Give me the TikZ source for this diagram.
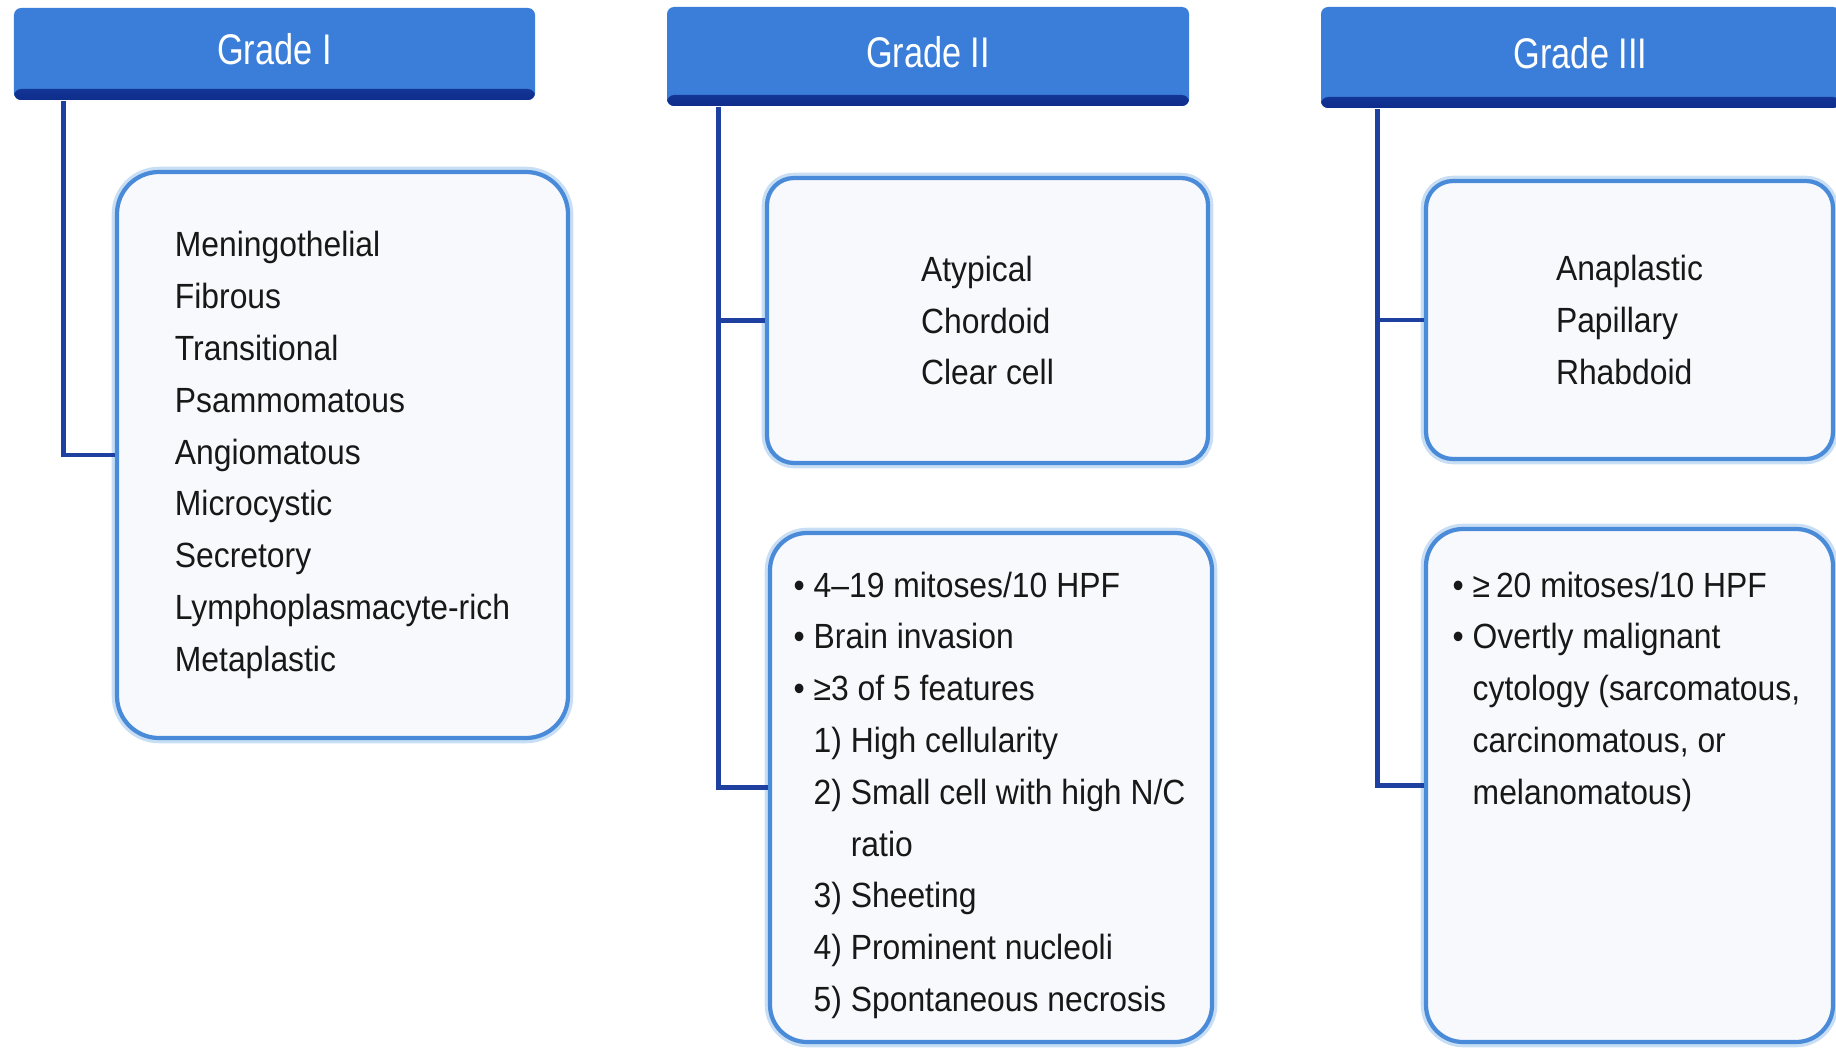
\documentclass[tikz,border=0pt]{standalone}
\usepackage{fontspec}
\setmainfont{Liberation Sans}[FakeStretch=0.91]
\newfontfamily\headfont{Liberation Sans}[FakeStretch=0.8]
\usepackage{tikz}
\definecolor{hblue}{RGB}{58,126,218}
\definecolor{hdark}{RGB}{14,44,140}
\definecolor{linkblue}{RGB}{30,64,160}
\definecolor{boxline}{RGB}{74,139,217}
\definecolor{boxglow}{RGB}{200,222,244}
\definecolor{boxfill}{RGB}{248,249,252}
\definecolor{ink}{RGB}{24,24,24}
\tikzset{grade/.style = {fill = hblue, rounded corners = 2pt, text = white, inner sep = 0, text depth = 1mm,
    font = \headfont\fontsize{12.2}{14}\selectfont,
    path picture = {\shade [top color = hblue, bottom color = hdark] ([yshift = 1.1mm]path picture bounding box.south west) rectangle (path picture bounding box.south east);}}}
\tikzset{typebox/.style = {draw = boxline, line width = 1.2pt, fill = boxfill, preaction = {draw = boxglow, line width = 3pt},
    text = ink, align = left, inner sep = 0, font = \fontsize{9.96}{14.74}\selectfont}}
\tikzset{items/.style = {text = ink, align = left, inner sep = 0, anchor = north west, font = \fontsize{9.96}{14.74}\selectfont}}
\tikzset{link/.style = {draw = linkblue, line width = 1.3pt}}

\begin{document}
\begin{tikzpicture}
      \useasboundingbox [fill = white] (0, 0) rectangle (18.36, -10.48);
      \node [grade, minimum width = 5.21cm, minimum height = 0.92cm] (g1) at (2.745, -0.54) {Grade I};
      \node [grade, minimum width = 5.22cm, minimum height = 0.99cm] (g2) at (9.28, -0.565) {Grade II};
      \node [grade, minimum width = 5.19cm, minimum height = 1.01cm] (g3) at (15.805, -0.575) {Grade III};
      \coordinate (s1) at ([xshift = 0.5cm]g1.south west);
      \coordinate (s2) at ([xshift = 0.52cm]g2.south west);
      \coordinate (s3) at ([xshift = 0.57cm]g3.south west);
      \node [typebox, rounded corners = 4.2mm, minimum width = 4.51cm, minimum height = 5.66cm] (b1) at (3.425, -4.55)
        {Meningothelial\\Fibrous\\Transitional\\Psammomatous\\Angiomatous\\Microcystic\\Secretory\\Lymphoplasmacyte-rich\\Metaplastic};
      \node [typebox, rounded corners = 2.7mm, minimum width = 4.41cm, minimum height = 2.85cm] (b2a) at (9.875, -3.205)
        {Atypical\\Chordoid\\Clear cell};
      \node [typebox, rounded corners = 3.7mm, minimum width = 4.42cm, minimum height = 5.09cm] (b2b) at (9.91, -7.875) {};
      \node [typebox, rounded corners = 2.7mm, minimum width = 4.07cm, minimum height = 2.78cm] (b3a) at (16.295, -3.2)
        {Anaplastic\\Papillary\\Rhabdoid};
      \node [typebox, rounded corners = 3.7mm, minimum width = 4.07cm, minimum height = 5.13cm] (b3b) at (16.295, -7.855) {};
      \node [items] (t2b) at (7.93, -5.71) {• 4–19 mitoses/10 HPF\\• Brain invasion\\• ≥3 of 5 features\\
        \phantom{• }1) High cellularity\\\phantom{• }2) Small cell with high N/C\\\phantom{• 2) }ratio\\
        \phantom{• }3) Sheeting\\\phantom{• }4) Prominent nucleoli\\\phantom{• }5) Spontaneous necrosis};
      \node [items] (t3b) at (14.52, -5.71) {• ≥\,20 mitoses/10 HPF\\• Overtly malignant\\
        \phantom{• }cytology (sarcomatous,\\\phantom{• }carcinomatous, or\\\phantom{• }melanomatous)};
      \draw [link] (s1) |- (b1.west);
      \draw [link] (s2) |- (b2b.west);
      \draw [link] (s2 |- b2a.west) -- (b2a.west);
      \draw [link] (s3) |- (b3b.west);
      \draw [link] (s3 |- b3a.west) -- (b3a.west);
    \end{tikzpicture}
\end{document}
